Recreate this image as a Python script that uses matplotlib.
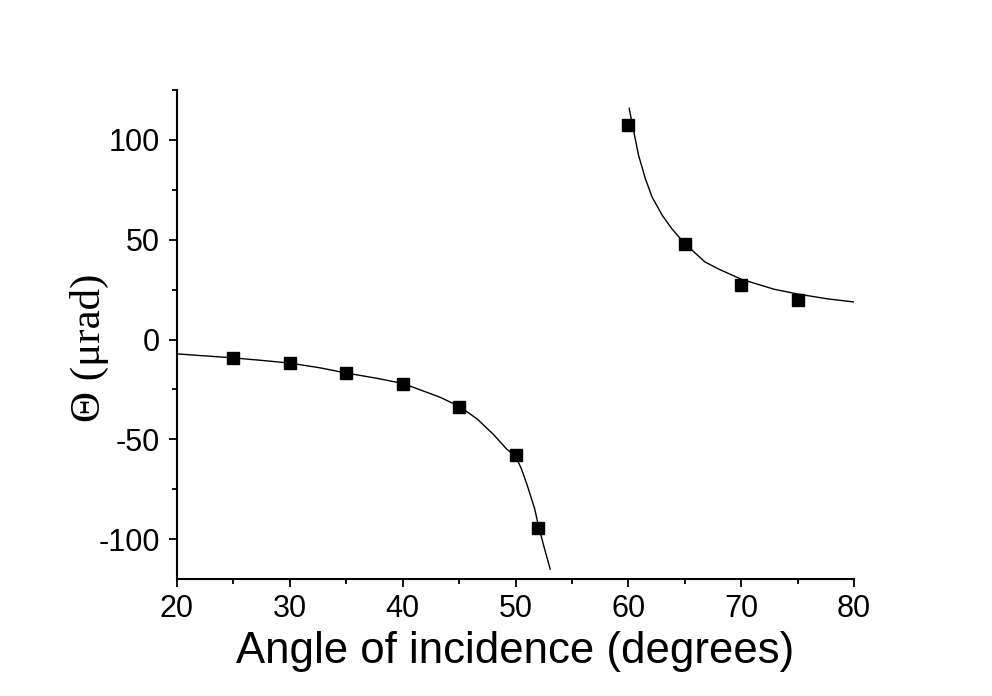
import matplotlib
matplotlib.use("Agg")
import matplotlib.pyplot as plt
from matplotlib.ticker import MultipleLocator

plt.rcParams["axes.unicode_minus"] = False

# measured data points
angles = [25, 30, 35, 40, 45, 50, 52, 60, 65, 70, 75]
theta = [-9.3, -11.8, -16.7, -22.2, -33.6, -57.9, -94.3, 107.7, 48.0, 27.4, 19.8]

# fitted curve (two branches)
fit_left_x = [20, 22.5, 25, 27.6, 30, 32.7, 35, 37.7, 40, 41.5, 43.3, 45, 46.6,
              48.0, 49.2, 50, 50.5, 51.0, 51.7, 52, 52.5, 53.07]
fit_left_y = [-7.2, -8.2, -9.2, -10.5, -11.8, -14.2, -16.8, -19.4, -22.0, -25.1,
              -28.9, -33.4, -39.8, -47.3, -54.8, -58.5, -64.5, -72.4, -84.9,
              -92.5, -103.4, -115]
fit_right_x = [60.07, 60.45, 60.9, 61.5, 62.1, 63.0, 63.85, 65, 66.8, 68.0, 69.3,
               70, 72.9, 74.9, 77.6, 80]
fit_right_y = [115.8, 104.9, 92.3, 80.6, 71.4, 62.2, 55.5, 48.0, 38.8, 35.3, 32.0,
               30.2, 25.2, 22.9, 20.4, 18.8]

fig = plt.figure(figsize=(9.92, 6.96), dpi=100)
ax = fig.add_axes([0.1784, 0.168, 0.861 - 0.1784, 0.8707 - 0.168])

ax.plot(fit_left_x, fit_left_y, color="black", lw=1.0)
ax.plot(fit_right_x, fit_right_y, color="black", lw=1.0)
ax.plot(angles, theta, linestyle="none", marker="s", markersize=8.3,
        color="black")

ax.set_xlim(20, 80)
ax.set_ylim(-120, 125)
ax.xaxis.set_major_locator(MultipleLocator(10))
ax.xaxis.set_minor_locator(MultipleLocator(5))
ax.yaxis.set_major_locator(MultipleLocator(50))
ax.yaxis.set_minor_locator(MultipleLocator(25))

for s in ["top", "right"]:
    ax.spines[s].set_visible(False)
for s in ["left", "bottom"]:
    ax.spines[s].set_linewidth(1.5)

ax.tick_params(which="major", direction="out", length=6, width=1.3,
               labelsize=22)
ax.tick_params(axis="x", which="major", pad=4.5)
ax.tick_params(axis="y", which="major", pad=6)
ax.tick_params(which="minor", direction="out", length=3.5, width=1.3)
for lab in ax.get_xticklabels() + ax.get_yticklabels():
    lab.set_family("Liberation Sans")

ax.set_xlabel("Angle of incidence (degrees)", fontsize=31.5,
              family="Liberation Sans")
ax.xaxis.label.set_va("baseline")
ax.xaxis.set_label_coords(0.5, -0.1718)

ax.set_ylabel("Θ (μrad)", fontsize=31, family="Liberation Serif")
ax.yaxis.label.set_va("center")
ax.yaxis.set_label_coords(-0.1285, 0.472)

fig.savefig("out.png", dpi=100)
